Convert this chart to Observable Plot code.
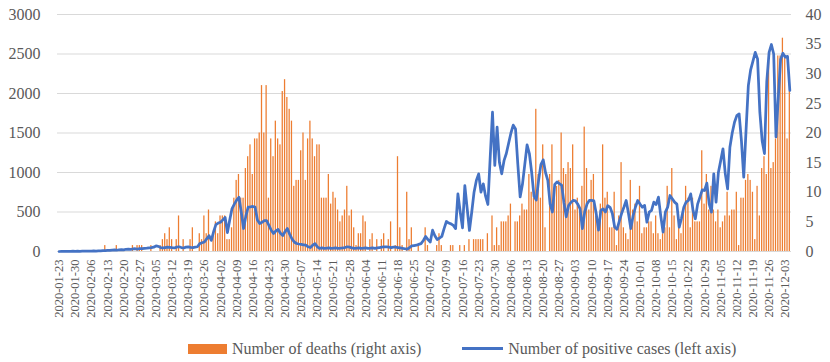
<!DOCTYPE html>
<html><head><meta charset="utf-8">
<script src="https://cdn.jsdelivr.net/npm/d3@7"></script>
<script src="https://cdn.jsdelivr.net/npm/@observablehq/plot@0.6"></script>
<style>
html,body{margin:0;padding:0;background:#fff;}
body{width:830px;height:362px;overflow:hidden;font-family:"Liberation Serif","Times New Roman",serif;}
#chart svg{display:block;font-family:"Liberation Serif","Times New Roman",serif !important;}
#chart svg text{font-family:"Liberation Serif","Times New Roman",serif;}
.legend{position:relative;height:27px;display:flex;align-items:center;padding-left:188px;font-size:16px;color:#595959;white-space:nowrap;}
.sw-bar{display:inline-block;width:39px;height:10px;background:#ED7D31;margin-right:5px;}
.sw-line{display:inline-block;width:41px;height:3px;background:#4472C4;margin-left:41px;margin-right:5px;}
</style></head>
<body>
<div id="chart"></div>
<div class="legend"><span class="sw-bar"></span><span>Number of deaths (right axis)</span><span class="sw-line"></span><span>Number of positive cases (left axis)</span></div>
<script>
const startDate = "2020-01-23";
const endDate = "2020-12-05";

// Number of deaths (right axis), one per day
const deaths = [
0,0,0,0,0,0,0,0,0,0,
0,0,0,0,0,0,0,0,0,0,
1,0,0,0,0,1,0,0,0,0,
0,0,1,0,1,1,1,0,0,0,
1,0,0,0,1,2,3,2,4,2,
0,2,6,0,2,0,0,2,4,0,
0,3,2,6,3,7,0,3,5,3,
6,6,6,2,2,4,9,12,13,9,
9,14,16,18,13,19,19,20,28,20,
28,9,19,16,22,19,18,27,29,26,
24,22,11,12,12,17,20,12,19,22,
19,16,18,18,9,9,9,13,8,10,
9,7,5,6,7,11,6,7,4,1,
3,3,6,5,0,2,3,0,2,0,
2,3,0,2,5,0,1,16,4,1,
0,10,2,4,0,0,1,0,0,4,
1,0,0,0,1,3,1,0,0,0,
1,1,0,0,1,0,1,0,2,0,
2,2,2,2,2,0,3,0,6,1,
4,1,5,5,5,6,8,0,5,5,
6,8,7,7,13,10,9,24,13,9,
18,4,0,13,18,9,11,12,20,14,
13,15,14,18,7,9,7,11,21,14,
7,12,13,6,5,8,18,9,10,4,
4,10,1,6,15,4,3,2,12,7,
8,5,11,3,4,4,5,5,3,6,
3,2,3,4,11,4,14,6,2,5,
3,7,11,9,4,9,5,5,5,17,
8,13,7,11,7,5,7,4,5,6,
10,6,7,7,10,1,9,9,12,13,
12,10,2,11,6,14,16,13,32,14,
15,19,33,33,36,33,19,27
];

// Number of positive cases (left axis), one per day
const positives = [
0,1,2,1,3,2,4,3,5,3,4,5,4,6,5,7,6,8,7,10,
12,15,14,18,20,16,22,25,20,28,30,26,32,35,30,38,36,40,42,45,
48,55,70,65,50,45,50,55,52,48,45,55,60,50,45,55,58,52,50,55,
60,100,110,120,160,200,140,250,340,360,
370,400,430,240,400,544,600,650,687,500,
291,450,561,565,570,561,400,354,370,390,
392,330,270,228,260,278,230,203,250,291,
220,160,120,101,95,90,85,80,60,50,
80,100,60,40,45,40,42,45,40,42,
45,40,42,45,50,60,55,45,40,42,
45,40,42,45,40,42,45,40,45,50,
55,60,60,55,50,55,55,50,45,40,
35,30,50,70,75,80,90,100,140,190,
150,120,270,200,150,170,190,290,380,360,
350,330,290,730,500,300,835,550,266,500,
751,900,983,751,857,700,595,1190,1763,1089,
1574,1130,983,1150,1240,1370,1500,1600,1550,1100,
690,850,1100,1350,1240,1000,700,650,900,1100,
1160,1000,900,600,500,850,880,860,840,620,
440,580,620,646,640,600,540,290,500,600,
646,646,640,480,270,520,540,500,580,560,
480,310,280,380,480,560,646,480,290,450,
560,646,600,560,583,371,498,520,625,595,
688,450,245,498,561,709,667,625,600,308,
420,560,625,646,730,520,414,600,688,780,
772,865,604,498,983,625,1000,1150,1300,983,
793,1320,1500,1637,1720,1742,1404,941,1530,2100,
2300,2410,2520,2438,1760,1400,1240,2150,2520,2620,
2500,1450,1950,2430,2510,2460,2470,2040
];

const tickLabels = [
"2020-01-23","2020-01-30","2020-02-06","2020-02-13","2020-02-20","2020-02-27",
"2020-03-05","2020-03-12","2020-03-19","2020-03-26","2020-04-02","2020-04-09",
"2020-04-16","2020-04-23","2020-04-30","2020-05-07","2020-05-14","2020-05-21",
"2020-05-28","2020-06-04","2020-06-11","2020-06-18","2020-06-25","2020-07-02",
"2020-07-09","2020-07-16","2020-07-23","2020-07-30","2020-08-06","2020-08-13",
"2020-08-20","2020-08-27","2020-09-03","2020-09-10","2020-09-17","2020-09-24",
"2020-10-01","2020-10-08","2020-10-15","2020-10-22","2020-10-29","2020-11-05",
"2020-11-12","2020-11-19","2020-11-26","2020-12-03"
];
const leftTicks = [0,500,1000,1500,2000,2500,3000];
const rightTicks = [0,5,10,15,20,25,30,35,40];

const fmt = d3.utcFormat("%Y-%m-%d");
const dates = d3.utcDay.range(new Date(startDate + "T00:00Z"), d3.utcDay.offset(new Date(endDate + "T00:00Z"), 1)).map(fmt);
const k = 3000 / 40; // right-axis units -> left-axis units
const rows = dates.map((d, i) => ({date: d, deaths: deaths[i], positives: positives[i]}));
const serif = '"Liberation Serif","Times New Roman",serif';

const chart = Plot.plot({
  width: 830,
  height: 335,
  marginLeft: 57,
  marginRight: 39,
  marginTop: 14,
  marginBottom: 84,
  style: {"font-family": serif, "color": "#595959", "background": "#fff", "overflow": "visible"},
  x: {type: "band", domain: dates, padding: 0.45, axis: null, label: null},
  y: {domain: [0, 3000], axis: null, label: null},
  marks: [
    Plot.gridY(leftTicks, {stroke: "#d9d9d9", strokeOpacity: 1, strokeWidth: 1}),
    Plot.barY(rows, {x: "date", y: d => d.deaths * k, fill: "#ED7D31"}),
    Plot.lineY(rows, {x: "date", y: "positives", stroke: "#4472C4", strokeWidth: 2.75, strokeLinejoin: "round"}),
    Plot.axisY(leftTicks, {anchor: "left", label: null, tickSize: 0, tickPadding: 17, fontSize: 16, fontFamily: serif, tickFormat: d => String(d)}),
    Plot.axisY(rightTicks.map(t => t * k), {anchor: "right", label: null, tickSize: 0, tickPadding: 14, fontSize: 16, fontFamily: serif, tickFormat: v => String(Math.round(v / k))}),
    Plot.axisX(tickLabels, {label: null, tickSize: 0, tickPadding: 8, tickRotate: -90, fontSize: 12.5, fontFamily: serif})
  ]
});
document.getElementById("chart").appendChild(chart);
</script>
</body></html>
